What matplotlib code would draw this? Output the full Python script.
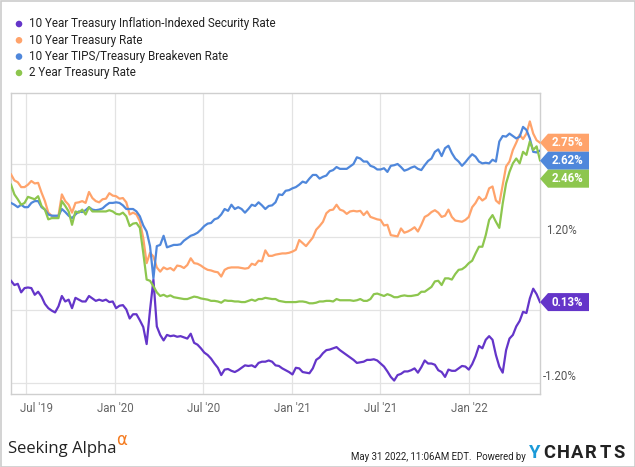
import matplotlib
matplotlib.use("Agg")
import matplotlib.pyplot as plt
from matplotlib.patches import Polygon, Circle, Rectangle
from matplotlib.transforms import IdentityTransform
import pandas as pd
import numpy as np

plt.rcParams['font.family'] = ['Roboto', 'DejaVu Sans']

# ---------------- data (weekly, from 2019-05-31) ----------------
start_date = '2019-05-31'
n_weeks = 157

series_names = [
    "10 Year Treasury Inflation-Indexed Security Rate",
    "10 Year Treasury Rate",
    "10 Year TIPS/Treasury Breakeven Rate",
    "2 Year Treasury Rate",
]
series_colors = ['#6435C9', '#FFA36B', '#4F87DB', '#8DC64E']

tips_rate = [
    0.48, 0.41, 0.43, 0.29, 0.36, 0.37, 0.36, 0.25, 0.30, 0.22,
    0.10, 0.03, -0.01, -0.04, 0.06, 0.23, 0.14, 0.17, 0.03, 0.20,
    0.17, 0.14, 0.14, 0.23, 0.19, 0.15, 0.17, 0.15, 0.17, 0.13,
    0.14, 0.03, 0.07, 0.08, 0.01, -0.14, -0.07, -0.07, -0.17, -0.28,
    -0.56, 0.00, 0.50, -0.27, -0.41, -0.50, -0.41, -0.43, -0.42, -0.44,
    -0.43, -0.45, -0.47, -0.39, -0.54, -0.57,
    -0.63, -0.70, -0.74, -0.80, -0.88, -0.95, -1.07, -0.98, -0.97, -1.00,
    -1.02, -0.99, -0.95, -0.91, -0.92, -0.91, -0.94, -0.87, -0.85, -0.85,
    -0.83, -0.85, -0.91, -0.92, -0.96, -0.99, -1.02, -1.06,
    -0.95, -0.96, -1.02, -1.03, -1.04, -0.96, -0.82, -0.78, -0.71, -0.66,
    -0.65, -0.63, -0.61, -0.66, -0.70, -0.74, -0.78, -0.82, -0.87, -0.86,
    -0.85, -0.82, -0.82, -0.81, -0.83, -0.88, -0.93,
    -1.01, -1.10, -1.16, -1.07, -1.05, -1.01, -1.01, -0.99, -0.96, -1.03,
    -0.94, -0.83, -0.88, -0.88, -0.90, -0.99, -1.02, -1.10, -0.98, -1.00,
    -1.00, -0.96, -0.92, -0.93, -0.98, -0.89, -0.76,
    -0.59, -0.63, -0.49, -0.43, -0.49, -0.74, -0.93, -1.03, -0.66, -0.47,
    -0.41, -0.27, -0.18, -0.03, -0.05, 0.19, 0.35, 0.26, 0.13,
]

ten_year_rate = [
    2.23, 2.13, 2.10, 2.02, 2.02, 2.06, 2.12, 2.08, 2.09, 1.93,
    1.79, 1.60, 1.55, 1.54, 1.55, 1.90, 1.79, 1.73, 1.60, 1.76,
    1.77, 1.79, 1.76, 1.94, 1.84, 1.79, 1.77, 1.82, 1.83, 1.92,
    1.88, 1.87, 1.83, 1.84, 1.77, 1.57, 1.60, 1.57, 1.46, 1.18,
    0.77, 0.94, 0.88, 0.70, 0.63, 0.70, 0.67, 0.69, 0.65, 0.73,
    0.72, 0.69, 0.74, 0.85, 0.77, 0.76,
    0.73, 0.69, 0.66, 0.65, 0.63, 0.62, 0.55, 0.66, 0.69, 0.70,
    0.70, 0.70, 0.69, 0.68, 0.69, 0.76, 0.74, 0.81, 0.80, 0.98,
    0.89, 0.89, 0.91, 0.92, 0.93, 0.93, 0.94, 0.96,
    0.99, 1.15, 1.10, 1.05, 1.12, 1.19, 1.32, 1.38, 1.45, 1.59,
    1.64, 1.65, 1.73, 1.65, 1.63, 1.58, 1.62, 1.63, 1.62, 1.63,
    1.56, 1.62, 1.53, 1.51, 1.49, 1.48, 1.39,
    1.40, 1.23, 1.22, 1.21, 1.34, 1.27, 1.29, 1.32, 1.36, 1.29,
    1.40, 1.53, 1.56, 1.61, 1.64, 1.60, 1.53, 1.55, 1.65, 1.53,
    1.47, 1.46, 1.45, 1.48, 1.53, 1.69, 1.76,
    1.86, 1.80, 1.84, 2.00, 2.03, 1.80, 1.75, 2.06, 2.36, 2.44,
    2.63, 2.75, 2.88, 2.81, 2.90, 3.10, 2.90, 2.79, 2.75,
]

breakeven_rate = [
    1.76, 1.73, 1.69, 1.73, 1.69, 1.69, 1.76, 1.79, 1.79, 1.69,
    1.65, 1.57, 1.55, 1.55, 1.55, 1.66, 1.61, 1.55, 1.51, 1.57,
    1.62, 1.61, 1.64, 1.69, 1.65, 1.64, 1.65, 1.67, 1.72, 1.76,
    1.76, 1.77, 1.76, 1.72, 1.66, 1.66, 1.66, 1.62, 1.54, 1.39,
    1.29, 1.05, 0.52, 1.05, 1.07, 1.22, 1.03, 1.05, 1.07, 1.07,
    1.08, 1.14, 1.18, 1.22, 1.24, 1.27,
    1.32, 1.38, 1.42, 1.43, 1.49, 1.51, 1.57, 1.66, 1.63, 1.73,
    1.66, 1.69, 1.66, 1.60, 1.66, 1.73, 1.71, 1.77, 1.72, 1.66,
    1.71, 1.72, 1.77, 1.90, 1.89, 1.96, 1.97, 2.00,
    2.02, 2.06, 2.11, 2.09, 2.16, 2.22, 2.22, 2.16, 2.19, 2.21,
    2.28, 2.30, 2.35, 2.32, 2.32, 2.32, 2.36, 2.40, 2.51, 2.49,
    2.44, 2.44, 2.37, 2.35, 2.31, 2.31, 2.33,
    2.27, 2.37, 2.38, 2.40, 2.35, 2.29, 2.31, 2.34, 2.36, 2.32,
    2.30, 2.38, 2.45, 2.49, 2.60, 2.64, 2.53, 2.66, 2.70, 2.58,
    2.49, 2.44, 2.37, 2.43, 2.50, 2.56, 2.52,
    2.44, 2.41, 2.42, 2.41, 2.47, 2.44, 2.77, 2.86, 2.85, 2.90,
    2.86, 2.82, 2.85, 3.01, 2.96, 2.82, 2.60, 2.59, 2.62,
]

two_year_rate = [
    2.06, 1.90, 1.82, 1.73, 1.76, 1.86, 1.84, 1.82, 1.87, 1.71,
    1.65, 1.49, 1.51, 1.51, 1.51, 1.79, 1.71, 1.62, 1.40, 1.62,
    1.60, 1.65, 1.57, 1.69, 1.62, 1.62, 1.62, 1.62, 1.62, 1.64,
    1.62, 1.58, 1.57, 1.60, 1.54, 1.38, 1.42, 1.43, 1.35, 0.94,
    0.50, 0.48, 0.39, 0.29, 0.23, 0.25, 0.22, 0.24, 0.21, 0.20,
    0.19, 0.18, 0.18, 0.20, 0.22, 0.21,
    0.19, 0.18, 0.17, 0.15, 0.15, 0.14, 0.12, 0.16, 0.15, 0.15,
    0.14, 0.14, 0.13, 0.13, 0.15, 0.17, 0.15, 0.18, 0.18, 0.20,
    0.19, 0.18, 0.18, 0.15, 0.14, 0.13, 0.13, 0.13,
    0.13, 0.14, 0.14, 0.13, 0.11, 0.11, 0.12, 0.14, 0.14, 0.15,
    0.15, 0.14, 0.18, 0.16, 0.16, 0.16, 0.16, 0.15, 0.16, 0.18,
    0.15, 0.15, 0.18, 0.26, 0.27, 0.25, 0.23,
    0.26, 0.24, 0.21, 0.21, 0.23, 0.24, 0.23, 0.23, 0.24, 0.25,
    0.30, 0.30, 0.34, 0.38, 0.47, 0.48, 0.41, 0.52, 0.52, 0.50,
    0.59, 0.66, 0.67, 0.71, 0.77, 0.81, 0.93,
    1.04, 1.04, 1.23, 1.48, 1.56, 1.45, 1.35, 1.75, 2.08, 2.27,
    2.41, 2.49, 2.41, 2.60, 2.55, 2.77, 2.63, 2.69, 2.46,
]

grid_values = [-1.2, 0.0, 1.2, 2.4]
shown_y_labels = {1.2: "1.20%", -1.2: "-1.20%"}
xtick_dates = ['2019-07-01', '2020-01-01', '2020-07-01', '2021-01-01', '2021-07-01', '2022-01-01']
xtick_labels = ["Jul '19", "Jan '20", "Jul '20", "Jan '21", "Jul '21", "Jan '22"]

# ---------------- figure ----------------
W, H = 635, 467
fig = plt.figure(figsize=(W / 100, H / 100), dpi=100)
fig.patch.set_facecolor('white')

# outer frame
fig.add_artist(Rectangle((0.5, 0.5), W - 1, H - 1, transform=IdentityTransform(),
                         fill=False, edgecolor='#cccccc', linewidth=1.2))

ax_l, ax_r, ax_t, ax_b = 11, 540, 93, 394
ax = fig.add_axes([ax_l / W, (H - ax_b) / H, (ax_r - ax_l) / W, (ax_b - ax_t) / H])

dates = pd.date_range(start_date, periods=n_weeks, freq='7D')
all_series = [tips_rate, ten_year_rate, breakeven_rate, two_year_rate]

ax.set_xlim(dates[0], dates[-1])
ax.set_ylim(-1.381, 3.567)

for s, c in zip(all_series, series_colors):
    ax.plot(dates, s, color=c, lw=1.6, solid_joinstyle='round', zorder=3)

ax.set_yticks(grid_values)
ax.set_xticks(pd.to_datetime(xtick_dates))
ax.grid(True, color='#e3e3e3', lw=0.9, zorder=0)
ax.tick_params(length=0, labelleft=False, labelbottom=False)
for sp in ax.spines.values():
    sp.set_color('#cfcfcf')
    sp.set_linewidth(1.0)

fig.canvas.draw()

# x labels
for d, lab in zip(pd.to_datetime(xtick_dates), xtick_labels):
    xd = ax.transData.transform((matplotlib.dates.date2num(d), 0))[0]
    if lab == "Jul '19":
        fig.text(20 / W, (H - 408) / H, lab, ha='left', va='center', fontsize=8.3, color='#666666')
    else:
        fig.text(xd / W, (H - 408) / H, lab, ha='center', va='center', fontsize=8.3, color='#666666')

# y labels on right
for v, lab in shown_y_labels.items():
    yd = ax.transData.transform((0, v))[1]
    fig.text(577 / W, (yd + 6) / H, lab, ha='right', va='center', fontsize=8.3, color='#555555')

# value flags
last_vals = [s[-1] for s in all_series]
order = np.argsort(last_vals)[::-1]
fh = 18
prev = None
x_end_num = matplotlib.dates.date2num(dates[-1])
for idx in order:
    yd = ax.transData.transform((x_end_num, last_vals[idx]))[1]
    if prev is not None and yd > prev - fh:
        yd = prev - fh
    prev = yd
    x0 = 540
    pts = [(x0, yd), (x0 + 8, yd + fh / 2), (x0 + 49, yd + fh / 2),
           (x0 + 49, yd - fh / 2), (x0 + 8, yd - fh / 2)]
    fig.add_artist(Polygon(pts, closed=True, transform=IdentityTransform(),
                           facecolor=series_colors[idx], edgecolor='none', zorder=5))
    fig.text((x0 + 27) / W, yd / H, f"{last_vals[idx]:.2f}%", ha='center', va='center',
             fontsize=8.3, fontweight='bold', color='white', zorder=6)

# legend
for i, (name, c) in enumerate(zip(series_names, series_colors)):
    yl = H - (24 + 16.3 * i)
    fig.add_artist(Circle((19, yl), 3.3, transform=IdentityTransform(),
                          facecolor=c, edgecolor='none'))
    fig.text(29 / W, yl / H, name, ha='left', va='center', fontsize=8.35, color='#222222')

# footer
fig.text(8 / W, (H - 449) / H, "Seeking Alpha", ha='left', va='center',
         fontsize=12, color='#222222', family=['Open Sans', 'DejaVu Sans'])
fig.text(116 / W, (H - 440) / H, "\u03b1", ha='left', va='center',
         fontsize=12, color='#F47B20', family=['DejaVu Sans'])
fig.text(526 / W, (H - 457) / H, "May 31 2022, 11:06AM EDT.  Powered by", ha='right', va='center',
         fontsize=6.9, color='#222222')
logo_letters = "YCHARTS"
for i, ch in enumerate(logo_letters):
    fig.text((535 + 14.0 * i) / W, (H - 453.5) / H, ch, ha='center', va='center',
             fontsize=13.2, fontweight='bold', color='#1B9AD8' if i == 0 else '#222222')

fig.savefig('out.png', dpi=100, facecolor='white')
